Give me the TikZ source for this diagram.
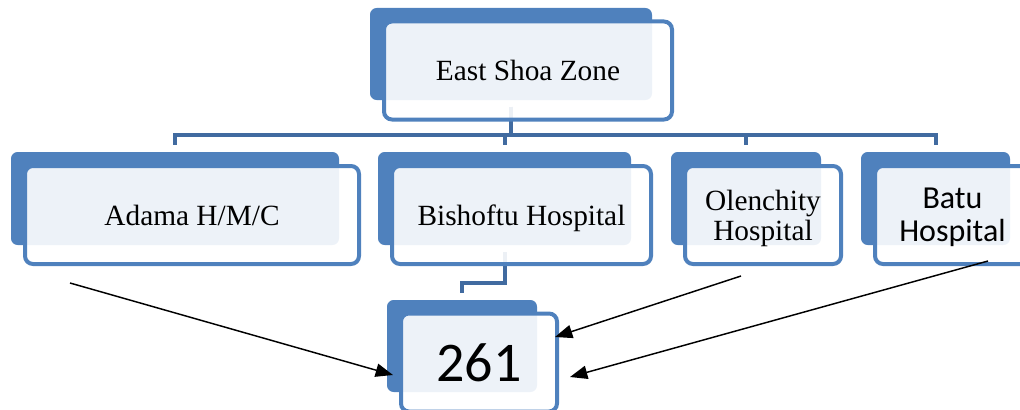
\documentclass[tikz,border=0pt]{standalone}
\usepackage{fontspec}
\setmainfont{Liberation Serif}
\newfontfamily\calibrifont{Carlito}
\usetikzlibrary{arrows.meta}
\definecolor{boxblue}{RGB}{79,129,189}
\definecolor{linkblue}{RGB}{65,107,160}

\begin{document}
\begin{tikzpicture}[x=0.75pt, y=-0.75pt,
        backbox/.style={rectangle, rounded corners=5pt, fill=boxblue, minimum height=69.75pt},
        frontbox/.style={rectangle, rounded corners=6pt, draw=boxblue, line width=3pt,
            fill=white, fill opacity=0.9, text opacity=1, minimum height=73.5pt,
            align=center, text depth=0pt, font=\fontsize{22}{22.5}\selectfont},
        link/.style={draw=linkblue, line width=3pt, shorten <=5pt, shorten >=5pt},
        pointer/.style={-{Triangle[length=13pt,width=10pt]}, line width=1.1pt}]
        \clip (0,0) rectangle (1020,410);

        % Back plates
        \node[backbox, minimum width=211.5pt, minimum height=69pt] (zone-b) at (511,54) {};
        \node[backbox, minimum width=246pt] (adama-b) at (175,198.5) {};
        \node[backbox, minimum width=189.75pt] (bisho-b) at (504.5,198.5) {};
        \node[backbox, minimum width=112.5pt] (olen-b) at (746,198.5) {};
        \node[backbox, minimum width=111.75pt] (batu-b) at (935.5,198.5) {};
        \node[backbox, minimum width=112.5pt, minimum height=69pt] (tot-b) at (462,346) {};

        % Connectors
        \coordinate (bus) at (0,135);
        \foreach \n in {adama,bisho,olen,batu}
            \draw[link] (zone-b.south) -- (zone-b.south |- bus) -| (\n-b.north);
        \draw[link] (bisho-b.south) -- ++(0,38) -| (tot-b.north);

        % Front plates
        \node[frontbox, minimum width=216pt] (zone) at ([shift={(17,16.5)}]zone-b) {East Shoa Zone};
        \node[frontbox, minimum width=250.5pt] (adama) at ([shift={(17,16.5)}]adama-b) {Adama H/M/C};
        \node[frontbox, minimum width=194.25pt] (bisho) at ([shift={(17,16.5)}]bisho-b) {Bishoftu Hospital};
        \node[frontbox, minimum width=117pt] (olen) at ([shift={(17,16.5)}]olen-b) {Olenchity\\Hospital};
        \node[frontbox, minimum width=116.25pt, font=\calibrifont\fontsize{24}{24.75}\selectfont] (batu) at ([shift={(17,16.5)}]batu-b) {Batu\\Hospital};
        \node[frontbox, minimum width=117pt, font=\calibrifont\fontsize{42}{44}\selectfont] (tot) at ([shift={(17,16.5)}]tot-b) {261};

        % Pointers
        \coordinate (p1) at (70,283);
        \coordinate (q1) at (393,375);
        \coordinate (p2) at (741,276);
        \coordinate (q2) at (555,337);
        \coordinate (p3) at (988,261);
        \coordinate (q3) at (570,377);
        \draw[pointer] (p1) -- (q1);
        \draw[pointer] (p2) -- (q2);
        \draw[pointer] (p3) -- (q3);
    \end{tikzpicture}
\end{document}
